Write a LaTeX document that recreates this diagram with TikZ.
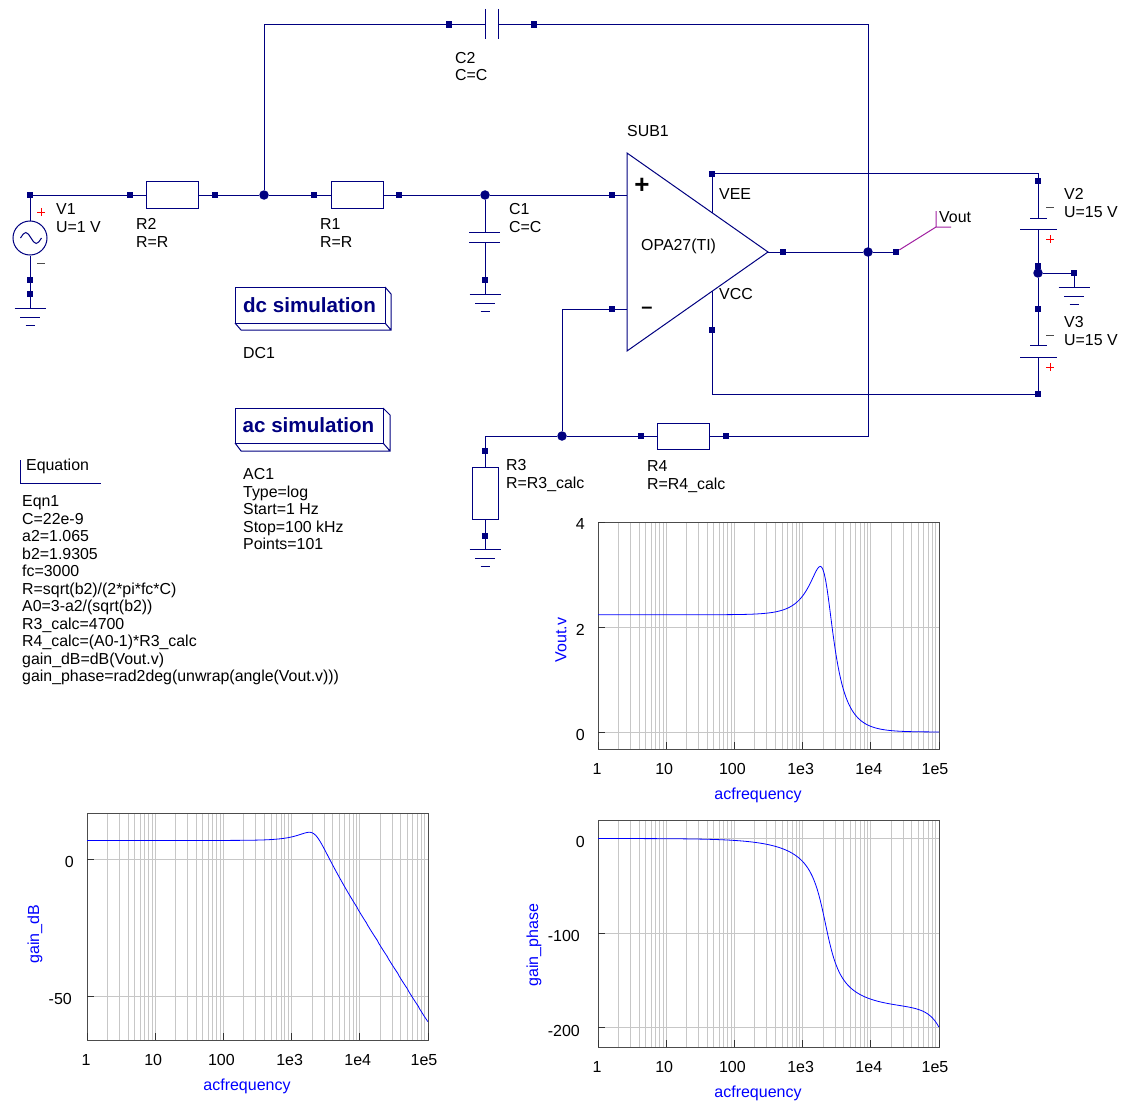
\documentclass[tikz,border=0pt]{standalone}
\usepackage{fontspec}
\setmainfont{Liberation Sans}
\usepackage{tikz}
\definecolor{wirecol}{rgb}{0,0,0.5}
\definecolor{probecol}{rgb}{0.63,0.13,0.63}
\tikzset{
	wire/.style={draw=wirecol,line width=1pt},
	port/.style={rectangle,fill=wirecol,inner sep=0pt,minimum size=6.5pt},
	dotj/.style={circle,fill=wirecol,inner sep=0pt,minimum size=9.5pt},
	res/.style={rectangle,wire,fill=white,inner sep=0pt},
	lbl/.style={anchor=north west,inner sep=0pt,align=left,font=\fontsize{15.9}{17.5}\selectfont},
	simbox/.style={anchor=center,inner sep=0pt,text=wirecol,font=\fontsize{20.6}{22}\selectfont\bfseries},
	ticklbl/.style={inner sep=0pt,font=\fontsize{16}{18}\selectfont},
	axlbl/.style={inner sep=0pt,text=blue,font=\fontsize{16}{18}\selectfont},
	curve/.style={draw=blue,line width=0.8pt},
	gridl/.style={draw=black!22,line width=1pt},
	declare function={
		xf(\t)=exp(2.302585*(\t-3.47712));
		hden(\t)=veclen(1-1.9305*xf(\t)*xf(\t),1.065*xf(\t));
		hmag(\t)=2.2335/hden(\t);
		hphase(\t)=-atan2(1.065*xf(\t),1-1.9305*xf(\t)*xf(\t))-21*exp(6.447*(\t-5));
	}
}
\begin{document}
\begin{tikzpicture}[x=1pt,y=-1pt]
	\useasboundingbox (0,0) rectangle (1126,1102);

	% ports and junctions
	\foreach \n/\px/\py in {P1/30/195,P2/130/195,P3/215/195,P4/314/195,P5/399/195,P6/612/195,
			P7/30/280,P8/30/294,P9/485/280,P10/449/24.5,P11/534/24.5,P12/612/309,P13/641/436,P14/726/436,
			P15/485/451,P16/485/536,P17/783/252,P18/896/252,P19/712/174,P20/712/330,
			P21/1038/181,P22/1038/266,P23/1038/309,P24/1038/394,P25/1074/273} {
		\node[port] (\n) at (\px,\py) {};
	}
	\foreach \n/\px/\py in {J1/264/195,J2/485/195,J3/868/252,J4/562/436,J5/1038/273} {
		\node[dotj] (\n) at (\px,\py) {};
	}

	% corners and plate ends
	\coordinate (K1) at (264,24.5);
	\coordinate (K2) at (868,24.5);
	\coordinate (K3) at (868,436);
	\coordinate (K4) at (485,436);
	\coordinate (K5) at (562,309);
	\coordinate (K6) at (1038,174);
	\coordinate (K7) at (712,394);
	\coordinate (K8) at (1074,273);
	\coordinate (C2a) at (485,24.5);
	\coordinate (C2b) at (498,24.5);
	\coordinate (C1a) at (485,232);
	\coordinate (C1b) at (485,242);
	\coordinate (V2a) at (1038,218);
	\coordinate (V2b) at (1038,229);
	\coordinate (V3a) at (1038,345);
	\coordinate (V3b) at (1038,357);
	\coordinate (Ua) at (627,195);
	\coordinate (Ub) at (627,309);
	\coordinate (Uo) at (768,252);
	\coordinate (Ue) at (712,213);
	\coordinate (Uc) at (712,291);
	\coordinate (Va) at (936,227);

	% ground symbols
	\foreach \n/\px/\py in {G1/30/308,G2/485/294,G3/485/549,G4/1074/287} {
		\coordinate (\n) at (\px,\py);
		\draw[wire] (\px-15.5,\py) -- (\px+15.5,\py);
		\draw[wire] (\px-10,\py+9) -- (\px+10,\py+9);
		\draw[wire] (\px-4.5,\py+17) -- (\px+4.5,\py+17);
	}

	% resistors
	\node[res,minimum width=52pt,minimum height=26pt] (R2) at (172,195) {};
	\node[res,minimum width=52pt,minimum height=26pt] (R1) at (357,195) {};
	\node[res,minimum width=52pt,minimum height=26pt] (R4) at (683.5,436) {};
	\node[res,minimum width=26pt,minimum height=52pt] (R3) at (485,493) {};

	% V1
	\node[circle,wire,inner sep=0pt,minimum size=34pt] (V1) at (30,238) {};
	\draw[wire] (20.5,238) sin (25.8,232.5) cos (31,238) sin (36.2,243.5) cos (41.5,238);

	% wires
	\draw[wire] (P1) -- (P2) (P2) -- (R2) (R2) -- (P3) (P3) -- (J1) (J1) -- (P4) (P4) -- (R1);
	\draw[wire] (R1) -- (P5) (P5) -- (J2) (J2) -- (P6) (P6) -- (Ua);
	\draw[wire] (P1) -- (V1) (V1) -- (P7) (P7) -- (P8) (P8) -- (G1);
	\draw[wire] (J1) -- (K1) -- (P10) -- (C2a);
	\draw[wire] (C2b) -- (P11) -- (K2) -- (K3) -- (P14) -- (R4) -- (P13) -- (J4) -- (K4) -- (P15) -- (R3) -- (P16) -- (G3);
	\draw[wire] (J4) -- (K5) -- (P12) -- (Ub);
	\draw[wire] (J2) -- (C1a) (C1b) -- (P9) -- (G2);
	\draw[wire] (Uo) -- (P17) -- (J3) -- (P18);
	\draw[wire] (Ue) -- (P19) -- (K6) -- (P21) -- (V2a);
	\draw[wire] (V2b) -- (P22) -- (J5) -- (P23) -- (V3a);
	\draw[wire] (V3b) -- (P24) -- (K7) -- (P20) -- (Uc);
	\draw[wire] (J5) -- (P25) -- (K8) -- (G4);
	\draw[draw=probecol,line width=1pt] (P18) -- (Va) -- (936,211) (Va) -- (951,227);

	% plates
	\draw[wire] (485,9) -- (485,39) (498,9) -- (498,39);
	\draw[wire] (469,232) -- (500,232) (469,242) -- (500,242);
	\draw[wire] (1030,218) -- (1047,218) (1020,229) -- (1057,229);
	\draw[wire] (1030,345) -- (1047,345) (1020,357) -- (1057,357);

	% signs
	\foreach \px/\py in {41/212,1050/239,1050/367} {
		\draw[red,line width=0.8pt] (\px-4,\py) -- (\px+4,\py) (\px,\py-4) -- (\px,\py+4);
	}
	\foreach \px/\py in {41/263,1050/207,1050/335} {
		\draw[black!70,line width=0.8pt] (\px-4,\py) -- (\px+4,\py);
	}

	% opamp
	\draw[wire,fill=white] (627,153) -- (Uo) -- (627,351) -- cycle;
	\node[inner sep=0pt,font=\fontsize{26}{26}\selectfont\bfseries] (Uplus) at (642,186) {+};
	\node[inner sep=0pt,font=\fontsize{20}{20}\selectfont\bfseries] (Uminus) at (647,310) {–};

	% simulation boxes
	\draw[wire,fill=white] (235,287) rectangle (385,323);
	\draw[wire] (385,287) -- (391,294) -- (391,330) -- (241,330) -- (235,323) (385,323) -- (391,330);
	\node[simbox] (DCbox) at (309.5,305) {dc simulation};
	\draw[wire,fill=white] (235,408) rectangle (383,443);
	\draw[wire] (383,408) -- (390,415) -- (390,451) -- (241,451) -- (235,443) (383,443) -- (390,451);
	\node[simbox] (ACbox) at (308.5,425) {ac simulation};

	% equation
	\draw[wire] (20.5,460) -- (20.5,483.5) -- (101,483.5);

	% labels
	\node[lbl] (Lv1) at (56,203.5) {V1\\U=1 V};
	\node[lbl] (Lr2) at (136,218.5) {R2\\R=R};
	\node[lbl] (Lr1) at (320,218.5) {R1\\R=R};
	\node[lbl] (Lc1) at (509,203.5) {C1\\C=C};
	\node[lbl] (Lc2) at (455,52) {C2\\C=C};
	\node[lbl] (Lsub) at (627,125.5) {SUB1};
	\node[lbl] (Lop) at (641,238.5) {OPA27(TI)};
	\node[lbl] (Lvee) at (719,188.5) {VEE};
	\node[lbl] (Lvcc) at (719,288.5) {VCC};
	\node[lbl] (Lvout) at (939,211.5) {Vout};
	\node[lbl] (Lv2) at (1064,188.5) {V2\\U=15 V};
	\node[lbl] (Lv3) at (1064,316.5) {V3\\U=15 V};
	\node[lbl] (Lr3) at (506,459.5) {R3\\R=R3\_calc};
	\node[lbl] (Lr4) at (647,460.5) {R4\\R=R4\_calc};
	\node[lbl] (Ldc) at (243,347.5) {DC1};
	\node[lbl] (Lac) at (243,468.5) {AC1\\Type=log\\Start=1 Hz\\Stop=100 kHz\\Points=101};
	\node[lbl] (Leqh) at (26,458.5) {Equation};
	\node[lbl] (Leq) at (22,495.5) {Eqn1\\C=22e-9\\a2=1.065\\b2=1.9305\\fc=3000\\R=sqrt(b2)/(2*pi*fc*C)\\A0=3-a2/(sqrt(b2))\\R3\_calc=4700\\R4\_calc=(A0-1)*R3\_calc\\gain\_dB=dB(Vout.v)\\gain\_phase=rad2deg(unwrap(angle(Vout.v)))};

	% plot frames
	\foreach \nm/\ox/\oy in {A/598/522,B/87/813,C/598/820} {
		\foreach \d in {0,...,4} {
			\foreach \m in {2,...,9} {
				\draw[gridl] ({\ox+68.2*(\d+log10(\m))},\oy) -- ({\ox+68.2*(\d+log10(\m))},\oy+227);
			}
		}
		\foreach \d/\lab/\off in {0/1/-1,1/10/-2,2/100/-2,3/1e3/-2,4/1e4/-2,5/1e5/-4} {
			\draw[gridl] ({\ox+68.2*\d},\oy) -- ({\ox+68.2*\d},\oy+227);
			\node[ticklbl] (\nm\d) at ({\ox+68.2*\d+\off},\oy+247) {\lab};
		}
	}
	\foreach \oy in {627,732} {\draw[gridl] (598,\oy) -- (939,\oy);}
	\foreach \oy in {859.5,996} {\draw[gridl] (87,\oy) -- (428,\oy);}
	\foreach \oy in {838.5,933.5,1027} {\draw[gridl] (598,\oy) -- (939,\oy);}
	\foreach \ox/\oy in {598/522,87/813,598/820} {
		\draw[black!70,line width=1pt] (\ox,\oy) rectangle (\ox+341,\oy+227);
		\foreach \d in {0,...,5} {
			\draw[black!80,line width=1pt] ({\ox+68.2*\d},\oy+227) -- ({\ox+68.2*\d},\oy+220);
		}
	}
	\foreach \ox/\oy in {598/522,598/627,598/732,87/859.5,87/996,598/838.5,598/933.5,598/1027} {
		\draw[black!80,line width=1pt] (\ox,\oy) -- (\ox+7,\oy);
	}

	% tick labels on y
	\node[ticklbl,anchor=east] (Ya) at (585,524) {4};
	\node[ticklbl,anchor=east] (Yb) at (585,629.5) {2};
	\node[ticklbl,anchor=east] (Yc) at (585,734.5) {0};
	\node[ticklbl,anchor=east] (Yd) at (74,862) {0};
	\node[ticklbl,anchor=east] (Ye) at (72,999) {-50};
	\node[ticklbl,anchor=east] (Yf) at (585,841.5) {0};
	\node[ticklbl,anchor=east] (Yg) at (580,936) {-100};
	\node[ticklbl,anchor=east] (Yh) at (580,1030.5) {-200};

	% axis labels
	\node[axlbl,rotate=90] (Xa) at (561,640) {Vout.v};
	\node[axlbl,rotate=90] (Xb) at (35,934) {gain\_dB};
	\node[axlbl,rotate=90] (Xc) at (534,945) {gain\_phase};
	\node[axlbl] (Xd) at (758,795) {acfrequency};
	\node[axlbl] (Xe) at (247,1086) {acfrequency};
	\node[axlbl] (Xf) at (758,1093) {acfrequency};

	% curves
	\draw[curve] plot[variable=\t,domain=0:5,samples=251] ({598+68.2*\t},{732-52.5*hmag(\t)});
	\draw[curve] plot[variable=\t,domain=0:5,samples=251] ({87+68.2*\t},{859.5-54.6*log10(hmag(\t))});
	\draw[curve] plot[variable=\t,domain=0:5,samples=251] ({598+68.2*\t},{838.5-0.944*hphase(\t)});
\end{tikzpicture}
\end{document}
